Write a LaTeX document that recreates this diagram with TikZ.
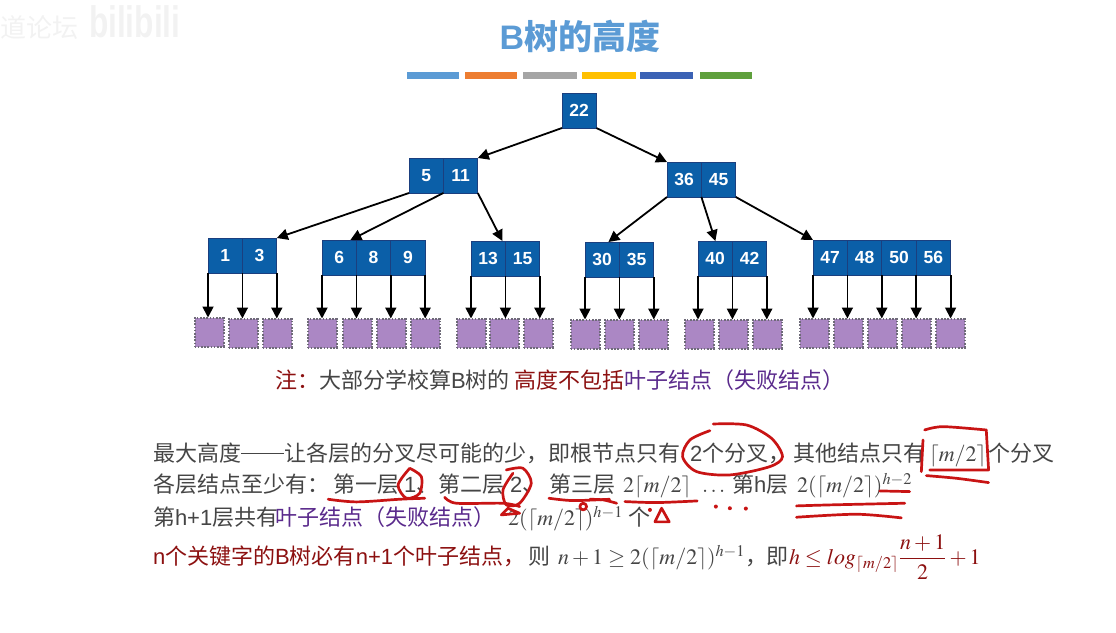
\documentclass[tikz,border=0pt]{standalone}
\usepackage{mathptmx}
\usepackage[no-math]{fontspec}
\setmainfont{Liberation Sans}
\newfontfamily\cjk{Noto Sans CJK SC}
\usetikzlibrary{arrows.meta}
\definecolor{titleblue}{HTML}{5B9BD5}
\definecolor{cellblue}{HTML}{0B5FA8}
\definecolor{cellline}{HTML}{1B3F7F}
\definecolor{leafpurple}{HTML}{AB87C4}
\definecolor{leafline}{HTML}{6E6A78}
\definecolor{bodygrey}{HTML}{454545}
\definecolor{notered}{HTML}{8C1010}
\definecolor{notepurple}{HTML}{5A2A8C}
\definecolor{penred}{HTML}{C81414}
\newcommand{\zh}[1]{{\cjk #1}}
\newcommand{\mh}{\lceil m/2\rceil}
\tikzset{
  cell/.style={draw=cellline,fill=cellblue,text=white,line width=1pt,minimum width=34.4pt,minimum height=35pt,inner sep=0pt,outer sep=0pt,font=\fontsize{17.5}{18}\selectfont\bfseries},
  leaf/.style={draw=leafline,fill=leafpurple,dash pattern=on 1.6pt off 1.6pt,line width=2pt,minimum size=29pt,inner sep=0pt,outer sep=0pt},
  branch/.style={-{Triangle[length=11pt,width=11pt]},line width=1.8pt,black},
  colorbar/.style={minimum height=7pt,inner sep=0pt,outer sep=0pt,anchor=north west},
  body/.style={anchor=base west,inner sep=0pt,outer sep=0pt,text=bodygrey,font=\fontsize{22}{24}\selectfont},
  note/.style={body,text=notered},
  leafnote/.style={body,text=notepurple},
  pen/.style={penred,line width=2.7pt,line cap=round,line join=round},
  wmark/.style={text=black!5,inner sep=0pt,outer sep=0pt,anchor=west}
}
\begin{document}
\begin{tikzpicture}[x=1pt,y=-1pt]
  \useasboundingbox (0,0) rectangle (1116,632);

  % watermark
  \node[wmark,font=\fontsize{26}{26}\selectfont] (markzh) at (1,28) {\zh{道论坛}};
  \node[wmark,font=\fontsize{44}{44}\selectfont\bfseries] (marklogo) at (89,22) {\scalebox{0.72}[1]{bilibili}};

  % title and bars
  \node[text=titleblue,inner sep=0pt,font=\fontsize{34}{34}\selectfont\bfseries] (title) at (580,36) {B{\cjk\bfseries 树的高度}};
  \foreach \x/\w/\c [count=\i] in {407/52/5B9BD5,465/52/ED7D31,523/54/A5A5A5,582/54/FFC000,640/53/3B62B5,700/52/5FA03C}{
    \definecolor{barcolor}{HTML}{\c}
    \node[colorbar,fill=barcolor,minimum width=\w pt] (bar\i) at (\x,72) {};
  }

  % keys
  \foreach \name/\x/\y/\keys in {root/562/93/{22},a/409/158/{5,11},b/667/162/{36,45},
    c/208/238/{1,3},d/322/240/{6,8,9},e/471/241/{13,15},f/585/242/{30,35},g/698/241/{40,42},h/813/240/{47,48,50,56}}{
    \foreach \key [count=\i] in \keys {
      \node[cell,anchor=north west] (\name-\i) at ({\x+(\i-1)*34.4},\y) {\key};
    }
  }

  % failure leaves
  \foreach \x/\y [count=\i] in {209/332,243/333,277/333,322/333,357/333,391/333,425/333,
    471/333,504/333,538/333,585/334,619/334,653/334,699/334,733/334,767/334,
    814/333,848/333,882/333,916/333,950/333}{
    \node[leaf] (leaf\i) at (\x,\y) {};
  }

  % tree edges
  \draw[branch] (root-1.south west) -- (a-2.north east);
  \draw[branch] (root-1.south east) -- (b-1.north west);
  \draw[branch] (a-1.south west) -- (c-2.north east);
  \draw[branch] (a-1.south east) -- ([xshift=-6pt]d-1.north east);
  \draw[branch] (a-2.south east) -- ([xshift=-3pt]e-1.north east);
  \draw[branch] (b-1.south west) -- ([xshift=-11pt]f-2.north west);
  \draw[branch] (b-1.south east) -- ([xshift=-17pt]g-1.north east);
  \draw[branch] (b-2.south east) -- (h-1.north west);

  % edges down to the leaves
  \foreach \name/\n/\first in {c/2/1,d/3/4,e/2/8,f/2/11,g/2/14,h/4/17}{
    \draw[branch] (\name-1.south west) -- (\name-1.south west |- leaf\first.north);
    \foreach \i in {1,...,\n}{
      \pgfmathtruncatemacro{\next}{\first+\i}
      \draw[branch] (\name-\i.south east) -- (\name-\i.south east |- leaf\next.north);
    }
  }

  % note line
  \node[note] (noteA) at (275,388) {\zh{注：}};
  \node[body] (noteB) at (319,388) {\zh{大部分学校算}B\zh{树的}};
  \node[note] (noteC) at (514,388) {\zh{高度不包括}};
  \node[leafnote] (noteD) at (624,388) {\zh{叶子结点（失败结点）}};

  % first line
  \node[body] (lineA) at (153,461) {\zh{最大高度}\rule[7pt]{43pt}{1pt}\zh{让各层的分叉尽可能的少，即根节点只有}};
  \node[body] (lineB) at (690,461) {2\zh{个分叉，}};
  \node[body] (lineC) at (793,461) {\zh{其他结点只有}};
  \node[body] (lineD) at (929,461) {$\mh$};
  \node[body] (lineE) at (988,461) {\zh{个分叉}};

  % second line
  \node[body] (layerA) at (153,492) {\zh{各层结点至少有：}};
  \node[body] (layerB) at (333,492) {\zh{第一层}};
  \node[body] (layerC) at (404,492) {1\zh{、}};
  \node[body] (layerD) at (438,492) {\zh{第二层}};
  \node[body] (layerE) at (510,492) {2\zh{、}};
  \node[body] (layerF) at (549,492) {\zh{第三层}};
  \node[body] (layerG) at (623,492) {$2\mh$};
  \node[body] (layerH) at (702,492) {$\ldots$};
  \node[body] (layerI) at (732,492) {\zh{第}h\zh{层}};
  \node[body] (layerJ) at (797,492) {$2(\mh)^{h-2}$};

  % third line
  \node[body] (countA) at (153,525) {\zh{第}h+1\zh{层共有}};
  \node[leafnote] (countB) at (275,525) {\zh{叶子结点（失败结点）}};
  \node[body] (countC) at (508,525) {$2(\mh)^{h-1}$};
  \node[body] (countD) at (628,525) {\zh{个}};

  % fourth line
  \node[note] (keysA) at (153,564) {n\zh{个关键字的}B\zh{树必有}n+1\zh{个叶子结点，}};
  \node[body] (keysB) at (528,564) {\zh{则}};
  \node[body] (keysC) at (558,564) {$n+1\geq 2(\mh)^{h-1}$\zh{，}};
  \node[body] (keysD) at (766,564) {\zh{即}};
  \node[note] (keysE) at (789,564) {$h\leq log_{\mh}\displaystyle\frac{n+1}{2}+1$};

  % pen marks, left half
  \begin{scope}[shift={(140,410)},x=0.333pt,y=-0.333pt]
    \draw[pen] plot[smooth] coordinates {(565,268) (650,276) (780,268) (855,265)};
    \draw[pen] plot[smooth] coordinates {(810,175) (775,225) (800,265) (840,250) (845,200) (810,175)};
    \draw[pen] plot[smooth] coordinates {(915,262) (950,280) (1090,280) (1140,290)};
    \draw[pen] plot[smooth] coordinates {(1100,180) (1150,175) (1175,220) (1140,280) (1100,285) (1090,240) (1120,190)};
    \draw[pen] (1085,315) -- (1105,295) -- (1140,310) -- cycle;
    \draw[pen] plot[smooth] coordinates {(1228,265) (1300,272) (1410,268)};
    \draw[pen] (1331,290) circle (10);
  \end{scope}

  % pen marks, right half
  \begin{scope}[shift={(590,410)},x=0.333pt,y=-0.333pt]
    \draw[pen] plot[smooth] coordinates {(0,268) (40,270) (80,280)};
    \draw[pen] plot[smooth] coordinates {(360,62) (300,90) (278,140) (320,185) (420,195) (540,170) (578,140) (545,85) (470,45) (370,42)};
    \draw[pen] plot[smooth] coordinates {(1005,60) (1060,50) (1190,60)};
    \draw[pen] (1190,60) -- (1197,180) -- (1020,180);
    \draw[pen] (1000,90) -- (995,185);
    \draw[pen] plot[smooth] coordinates {(1010,197) (1100,205) (1197,218)};
    \draw[pen] plot[smooth] coordinates {(105,275) (200,278) (322,273)};
    \draw[pen] plot[smooth] coordinates {(870,243) (960,245)};
    \draw[pen] plot[smooth] coordinates {(620,288) (720,285) (945,280)};
    \draw[pen] plot[smooth] coordinates {(620,322) (800,313) (935,324)};
    \draw[pen] (195,336) -- (215,295) -- (238,336) -- cycle;
    \foreach \x/\y in {180/300,378/290,420/295,468/296}{
      \fill[penred] (\x,\y) circle (6);
    }
  \end{scope}
\end{tikzpicture}
\end{document}
